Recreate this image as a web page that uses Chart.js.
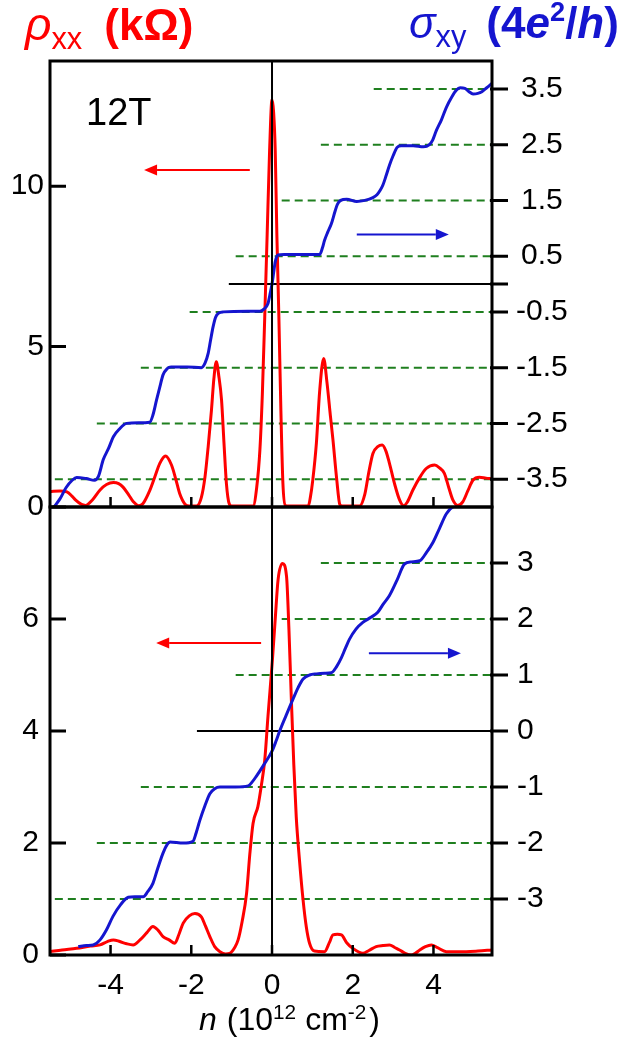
<!DOCTYPE html>
<html>
<head>
<meta charset="utf-8">
<script src="https://cdn.jsdelivr.net/npm/chart.js@4.4.0/dist/chart.umd.min.js"></script>
<style>
html,body{margin:0;padding:0;background:#fff;overflow:hidden;}
#wrap{position:relative;width:626px;height:1042px;font-family:'Liberation Sans',Arial,sans-serif;}
canvas{position:absolute;left:0;}
.txt{position:absolute;white-space:nowrap;line-height:1;}
.sub{font-size:0.7em;position:relative;top:0.28em;font-weight:normal;}
.sup{font-size:0.62em;position:relative;top:-0.62em;}
</style>
</head>
<body>
<div id="wrap">
  <canvas id="c1" width="626" height="540" style="top:0;width:626px;height:540px"></canvas>
  <canvas id="c2" width="626" height="572" style="top:470px;width:626px;height:572px"></canvas>
  <div class="txt" style="left:25px;top:1px;font-size:44px;color:#ff0000;"><span style="font-style:italic;font-size:1.05em">ρ</span><span class="sub">xx</span><span style="font-weight:bold;margin-left:22px">(kΩ)</span></div>
  <div class="txt" style="left:409px;top:1px;font-size:44px;color:#1515cf;"><span style="font-style:italic;font-size:1.0em">σ</span><span class="sub">xy</span><span style="font-weight:bold;margin-left:20px">(4<i>e</i><span class="sup">2</span>/<i>h</i>)</span></div>
  <div class="txt" style="left:86px;top:93px;font-size:38px;color:#000;">12T</div>
  <div class="txt" style="left:199px;top:1003px;font-size:32px;color:#000;"><i>n</i><span style="margin-left:10px">(10</span><span class="sup" style="top:-0.55em;font-size:0.65em">12</span><span style="margin-left:9px">cm</span><span class="sup" style="top:-0.55em;font-size:0.65em">-2</span><span style="margin-left:3px">)</span></div>
</div>
<script>
// ---------- axis ranges & ticks ----------
const xRange = [-5.5, 5.45];
const topRhoRange = [0, 13.9];
const botRhoRange = [0, 8];
const sigRange = [-4, 4];
const xTicks = [-4, -2, 0, 2, 4];
const topLeftTicks = [0, 5, 10];
const topRightTicks = [-3.5, -2.5, -1.5, -0.5, 0.5, 1.5, 2.5, 3.5];
const topRightMarks = [-3.5, -2.5, -1.5, -0.5, 0, 0.5, 1.5, 2.5, 3.5];
const botLeftTicks = [0, 2, 4, 6];
const botRightTicks = [-3, -2, -1, 0, 1, 2, 3];

// ---------- top panel (12T) : [n, rho_xx (kOhm)] ----------
const rhoTop = [[-5.5,0.48],[-5.25,0.5],[-5.08,0.47],[-4.95,0.33],[-4.87,0.22],[-4.72,0.08],[-4.62,0.05],[-4.45,0.22],[-4.26,0.53],[-4.1,0.7],[-3.93,0.76],[-3.8,0.73],[-3.69,0.62],[-3.55,0.38],[-3.44,0.17],[-3.3,0.04],[-3.2,0.1],[-3.03,0.51],[-2.9,0.95],[-2.78,1.36],[-2.64,1.59],[-2.49,1.31],[-2.38,0.85],[-2.29,0.43],[-2.15,0.08],[-2.05,0.03],[-1.87,0.03],[-1.75,0.3],[-1.66,0.94],[-1.58,1.9],[-1.5,3.02],[-1.44,4.0],[-1.38,4.53],[-1.32,4.1],[-1.25,3.33],[-1.19,2.0],[-1.13,0.74],[-1.06,0.1],[-1.0,0.03],[-0.47,0.03],[-0.38,0.6],[-0.3,1.78],[-0.24,3.5],[-0.18,5.93],[-0.12,8.5],[-0.06,11.1],[0,12.7],[0.04,12.3],[0.08,11.1],[0.12,8.5],[0.17,5.93],[0.22,3.0],[0.27,0.74],[0.33,0.05],[0.4,0.03],[0.9,0.03],[0.95,0.3],[1.01,0.84],[1.1,2.0],[1.18,3.6],[1.28,4.63],[1.36,3.9],[1.45,2.8],[1.51,2.09],[1.6,0.9],[1.68,0.08],[1.75,0.03],[2.17,0.03],[2.3,0.4],[2.4,1.1],[2.5,1.67],[2.62,1.88],[2.73,1.93],[2.82,1.75],[2.91,1.36],[3.03,0.75],[3.16,0.22],[3.26,0.04],[3.35,0.15],[3.49,0.53],[3.65,0.9],[3.82,1.2],[4.03,1.31],[4.15,1.22],[4.27,1.05],[4.38,0.6],[4.48,0.22],[4.6,0.05],[4.73,0.17],[4.85,0.5],[4.98,0.84],[5.14,0.93],[5.3,0.9],[5.45,0.88]];
// [n, sigma_xy (4e^2/h)]
const sigTop = [[-5.4,-4.0],[-5.25,-3.85],[-5.1,-3.65],[-4.95,-3.52],[-4.84,-3.47],[-4.6,-3.49],[-4.4,-3.52],[-4.3,-3.45],[-4.18,-3.15],[-4.05,-2.95],[-3.93,-2.74],[-3.78,-2.6],[-3.6,-2.5],[-3.3,-2.49],[-3.03,-2.48],[-2.95,-2.35],[-2.86,-2.08],[-2.78,-1.85],[-2.7,-1.63],[-2.6,-1.52],[-2.5,-1.49],[-2.1,-1.49],[-1.75,-1.5],[-1.66,-1.42],[-1.58,-1.24],[-1.52,-1.0],[-1.46,-0.77],[-1.4,-0.6],[-1.32,-0.52],[-1.2,-0.5],[-0.6,-0.49],[-0.3,-0.49],[-0.2,-0.45],[-0.1,-0.35],[-0.04,-0.15],[0,0.0],[0.04,0.2],[0.08,0.4],[0.15,0.52],[0.3,0.53],[0.8,0.53],[1.18,0.53],[1.25,0.65],[1.3,0.78],[1.38,0.93],[1.47,1.08],[1.56,1.3],[1.62,1.43],[1.7,1.5],[1.85,1.52],[2.1,1.48],[2.3,1.5],[2.5,1.55],[2.6,1.6],[2.68,1.68],[2.75,1.78],[2.83,1.95],[2.91,2.13],[3.0,2.3],[3.1,2.45],[3.2,2.48],[3.5,2.48],[3.75,2.46],[3.9,2.5],[3.98,2.58],[4.07,2.75],[4.2,2.95],[4.32,3.17],[4.45,3.35],[4.56,3.47],[4.66,3.52],[4.78,3.51],[4.88,3.45],[4.98,3.41],[5.1,3.42],[5.2,3.45],[5.32,3.52],[5.45,3.6]];
// reference levels (sigma) and where their dashed line starts (n)
const topLevels = [3.5, 2.5, 1.5, 0.5, -0.5, -1.5, -2.5, -3.5];
const topLevelStarts = [2.52, 1.21, 0.24, -0.90, -2.04, -3.25, -4.34, -5.38];
const topZeroStart = -1.07;
// arrows: [from n, to n, value]
const topRhoArrow = [-0.55, -3.17, 10.5];
const topSigArrow = [2.1, 4.38, 0.89];

// ---------- bottom panel ----------
const rhoBot = [[-5.5,0.06],[-5.2,0.09],[-4.84,0.12],[-4.5,0.16],[-4.26,0.18],[-4.08,0.24],[-3.93,0.27],[-3.77,0.24],[-3.6,0.2],[-3.44,0.18],[-3.27,0.27],[-3.1,0.4],[-2.95,0.51],[-2.82,0.44],[-2.7,0.33],[-2.55,0.27],[-2.41,0.21],[-2.3,0.38],[-2.2,0.57],[-2.05,0.7],[-1.91,0.74],[-1.75,0.68],[-1.65,0.52],[-1.54,0.33],[-1.42,0.15],[-1.29,0.06],[-1.15,0.02],[-1.05,0.03],[-0.92,0.14],[-0.84,0.27],[-0.74,0.6],[-0.63,1.1],[-0.55,1.8],[-0.47,2.35],[-0.35,2.65],[-0.27,3.0],[-0.18,3.48],[-0.1,4.26],[0.01,5.27],[0.08,6.0],[0.15,6.7],[0.26,6.99],[0.36,6.76],[0.42,5.8],[0.48,4.55],[0.54,3.4],[0.6,2.47],[0.68,1.7],[0.77,0.98],[0.85,0.5],[0.93,0.21],[1.05,0.07],[1.3,0.06],[1.42,0.22],[1.51,0.36],[1.62,0.37],[1.72,0.36],[1.85,0.22],[2.0,0.12],[2.25,0.03],[2.4,0.08],[2.58,0.15],[2.75,0.17],[2.91,0.18],[3.05,0.13],[3.16,0.09],[3.3,0.03],[3.45,0.0],[3.55,0.03],[3.66,0.09],[3.8,0.15],[3.95,0.18],[4.1,0.13],[4.32,0.06],[4.6,0.06],[4.81,0.06],[5.1,0.07],[5.45,0.09]];
const sigBot = [[-4.8,-3.85],[-4.6,-3.83],[-4.43,-3.82],[-4.26,-3.73],[-4.1,-3.55],[-3.94,-3.31],[-3.75,-3.1],[-3.56,-2.97],[-3.4,-2.96],[-3.19,-2.96],[-3.08,-2.87],[-2.95,-2.72],[-2.83,-2.45],[-2.7,-2.18],[-2.6,-2.03],[-2.53,-1.98],[-2.2,-2.0],[-1.96,-1.97],[-1.88,-1.82],[-1.79,-1.6],[-1.66,-1.33],[-1.54,-1.12],[-1.42,-1.03],[-1.29,-1.0],[-0.9,-1.0],[-0.59,-0.98],[-0.48,-0.9],[-0.39,-0.81],[-0.2,-0.6],[0,-0.36],[0.1,-0.18],[0.19,0.0],[0.35,0.28],[0.52,0.57],[0.65,0.78],[0.77,0.93],[0.93,1.0],[1.1,1.02],[1.3,1.03],[1.47,1.04],[1.6,1.15],[1.72,1.31],[1.82,1.48],[1.92,1.64],[2.08,1.82],[2.25,1.94],[2.45,2.03],[2.62,2.12],[2.76,2.27],[2.91,2.42],[3.1,2.7],[3.28,2.98],[3.45,3.02],[3.66,3.04],[3.82,3.18],[3.99,3.37],[4.15,3.62],[4.32,3.88],[4.48,4.0],[4.65,4.02]];
const botLevels = [4, 3, 2, 1, -1, -2, -3];
const botLevelStarts = [2.52, 1.21, 0.24, -0.90, -3.25, -4.34, -5.38];
const botZeroStart = -1.86;
const botRhoArrow = [-0.27, -2.87, 5.57];
const botSigArrow = [2.40, 4.68, 1.39];

// ---------- styles ----------
const RED = '#ff0000', BLUE = '#1515cf', GREEN = '#1f7f1f', BLACK = '#000000';
const FONT = "'Liberation Sans', Arial, sans-serif";
const tickFont = {family: FONT, size: 30};

function toXY(arr) { return arr.map(p => ({x: p[0], y: p[1]})); }
function curve(arr, color, axis, order) {
  return {data: toXY(arr), borderColor: color, borderWidth: 3, yAxisID: axis, pointRadius: 0,
          fill: false, order: order, cubicInterpolationMode: 'monotone'};
}
function straight(pts, color, width, axis, order, dash) {
  return {data: pts, borderColor: color, borderWidth: width, yAxisID: axis, pointRadius: 0,
          fill: false, order: order, tension: 0, borderDash: dash || []};
}
function levelLines(levels, starts, zeroStart) {
  const ds = levels.map((lv, i) => straight([{x: starts[i], y: lv}, {x: xRange[1], y: lv}], GREEN, 2, 'yR', 3, [8, 5]));
  ds.push(straight([{x: zeroStart, y: 0}, {x: xRange[1], y: 0}], BLACK, 2, 'yR', 3));
  return ds;
}
function yScale(pos, range, ticksArr, width, pad, fmt, cross) {
  return {
    type: 'linear', position: pos, min: range[0], max: range[1],
    grid: {display: false, drawTicks: false}, border: {display: false},
    ticks: {font: tickFont, color: BLACK, padding: pad, crossAlign: cross, autoSkip: false, callback: fmt},
    afterBuildTicks: s => { s.ticks = ticksArr.map(v => ({value: v})); },
    afterFit: s => { s.width = width; s.paddingTop = 0; s.paddingBottom = 0; }
  };
}
function drawArrow(ctx, x1, x2, y, color) {
  const dir = Math.sign(x2 - x1), hl = 13, hw = 5.5;
  ctx.strokeStyle = color; ctx.fillStyle = color; ctx.lineWidth = 2;
  ctx.beginPath(); ctx.moveTo(x1, y); ctx.lineTo(x2 - dir * hl, y); ctx.stroke();
  ctx.beginPath(); ctx.moveTo(x2, y); ctx.lineTo(x2 - dir * hl, y - hw); ctx.lineTo(x2 - dir * hl, y + hw); ctx.closePath(); ctx.fill();
}
function panelPlugin(cfg) {
  return {
    id: 'panel_' + cfg.name,
    afterDatasetsDraw(chart) {
      const ctx = chart.ctx, a = chart.chartArea, xs = chart.scales.x, yl = chart.scales.yL, yr = chart.scales.yR;
      ctx.save();
      drawArrow(ctx, xs.getPixelForValue(cfg.rhoArrow[0]), xs.getPixelForValue(cfg.rhoArrow[1]), yl.getPixelForValue(cfg.rhoArrow[2]), RED);
      drawArrow(ctx, xs.getPixelForValue(cfg.sigArrow[0]), xs.getPixelForValue(cfg.sigArrow[1]), yr.getPixelForValue(cfg.sigArrow[2]), BLUE);
      ctx.strokeStyle = BLACK;
      ctx.lineWidth = 3;
      ctx.beginPath();
      cfg.leftMarks.forEach(v => { const y = yl.getPixelForValue(v); ctx.moveTo(a.left, y); ctx.lineTo(a.left + 16, y); });
      cfg.rightMarks.forEach(v => { const y = yr.getPixelForValue(v); ctx.moveTo(a.right - 2, y); ctx.lineTo(a.right + 16, y); });
      ctx.stroke();
      ctx.lineWidth = 2.5;
      ctx.beginPath();
      xTicks.forEach(v => { const x = xs.getPixelForValue(v); ctx.moveTo(x, a.bottom); ctx.lineTo(x, a.bottom - 10); });
      ctx.stroke();
      ctx.lineWidth = 3;
      ctx.strokeRect(a.left, a.top, a.right - a.left, a.bottom - a.top);
      ctx.restore();
    }
  };
}
const common = {
  responsive: false, animation: false, events: [],
  plugins: {legend: {display: false}, tooltip: {enabled: false}}
};

// ---------- top chart ----------
new Chart(document.getElementById('c1'), {
  type: 'line',
  data: {datasets: [
    straight([{x: 0, y: topRhoRange[0]}, {x: 0, y: topRhoRange[1]}], BLACK, 2, 'yL', 0),
    curve(sigTop, BLUE, 'yR', 1),
    curve(rhoTop, RED, 'yL', 2),
    ...levelLines(topLevels, topLevelStarts, topZeroStart)
  ]},
  options: Object.assign({}, common, {
    layout: {padding: {top: 61, bottom: 33, left: 0, right: 0}},
    scales: {
      x: {type: 'linear', min: xRange[0], max: xRange[1], display: false},
      yL: yScale('left', topRhoRange, topLeftTicks, 50, 6, v => String(v), 'near'),
      yR: yScale('right', sigRange, topRightTicks, 134, 24, v => v.toFixed(1), 'center')
    }
  }),
  plugins: [panelPlugin({name: 'top', rhoArrow: topRhoArrow, sigArrow: topSigArrow, leftMarks: topLeftTicks, rightMarks: topRightMarks})]
});

// ---------- bottom chart ----------
new Chart(document.getElementById('c2'), {
  type: 'line',
  data: {datasets: [
    straight([{x: 0, y: botRhoRange[0]}, {x: 0, y: botRhoRange[1]}], BLACK, 2, 'yL', 0),
    curve(sigBot, BLUE, 'yR', 1),
    curve(rhoBot, RED, 'yL', 2),
    ...levelLines(botLevels, botLevelStarts, botZeroStart)
  ]},
  options: Object.assign({}, common, {
    layout: {padding: {top: 37, bottom: 0, left: 0, right: 0}},
    scales: {
      x: {
        type: 'linear', position: 'bottom', min: xRange[0], max: xRange[1],
        grid: {display: false, drawTicks: false}, border: {display: false},
        ticks: {font: tickFont, color: BLACK, padding: 13, autoSkip: false, maxRotation: 0, minRotation: 0, callback: v => String(v)},
        afterBuildTicks: s => { s.ticks = xTicks.map(v => ({value: v})); },
        afterFit: s => { s.height = 87; s.paddingLeft = 0; s.paddingRight = 0; }
      },
      yL: yScale('left', botRhoRange, botLeftTicks, 50, 11, v => String(v), 'near'),
      yR: yScale('right', sigRange, botRightTicks, 134, 25, v => String(v), 'near')
    }
  }),
  plugins: [panelPlugin({name: 'bot', rhoArrow: botRhoArrow, sigArrow: botSigArrow, leftMarks: botLeftTicks, rightMarks: botRightTicks})]
});
</script>
</body>
</html>
